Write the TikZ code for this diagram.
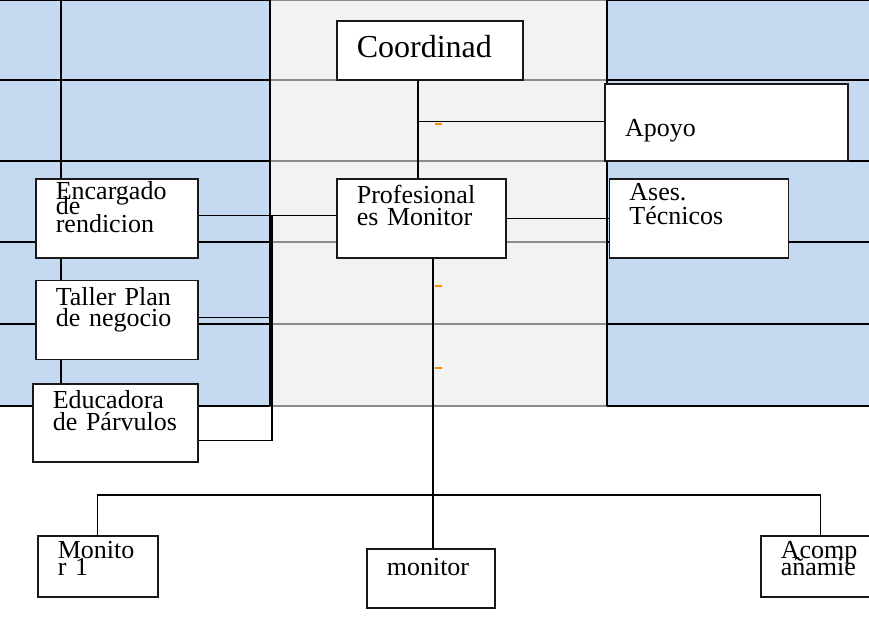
\documentclass[tikz,border=0pt]{standalone}
\usepackage{fontspec}
\setmainfont{Liberation Serif}
\usetikzlibrary{positioning}

\definecolor{cellblue}{RGB}{197,217,241}
\definecolor{cellgrey}{RGB}{242,242,242}
\definecolor{rulegrey}{RGB}{140,140,140}
\definecolor{tickorange}{RGB}{255,140,0}

\tikzset{
    box/.style={rectangle, draw=black!90, line width=1.6pt, fill=white, align=left,
        inner xsep=20pt, inner ysep=0pt, font=\fontsize{26}{22}\selectfont,
        execute at begin node={\lineskiplimit=-40pt}},
    conn/.style={draw=black, line width=1.3pt},
    rule/.style={line width=1.6pt},
    tick/.style={tickorange, line width=1.8pt}
}

\begin{document}
\begin{tikzpicture}[x=1pt, y=-1pt]
    \useasboundingbox (0,0) rectangle (869,630);
    \clip (0,0) rectangle (869,630);

    % Background cells
    \fill[cellblue] (0,0) rectangle (270,406);
    \fill[cellgrey] (270,0) rectangle (607,406);
    \fill[cellblue] (607,0) rectangle (869,406);

    % Table rules
    \foreach \y in {0,80,161,242,324,406} {
        \draw[rule] (0,\y) -- (270,\y);
        \draw[rule, rulegrey] (270,\y) -- (607,\y);
        \draw[rule] (607,\y) -- (869,\y);
    }
    \draw[rule] (61,0) -- (61,406);
    \draw[line width=2.6pt] (270,0) -- (270,406);
    \draw[line width=2.6pt] (607,0) -- (607,406);

    \begin{scope}
        % Top and middle boxes
        \node[box, text width=146pt, text height=37pt, text depth=22pt, font=\fontsize{32}{32}\selectfont, anchor=north west] (coord) at (336,20) {Coordinad};
        \node[box, line width=2.4pt, text width=203pt, text height=52pt, text depth=25pt, anchor=north west] (apoyo) at (604,83) {Apoyo};
        \node[box, text width=129pt, text height=25pt, text depth=54pt, anchor=north west] (prof) at (336,178) {Profesional\\es Monitor};
        \node[box, text width=139pt, text height=22pt, text depth=57pt, right=102pt of prof] (ases) {Ases.\\[2pt]Técnicos};

        % Left column
        \node[box, text width=122pt, text height=21pt, text depth=58pt, anchor=north west] (encargado) at (35,178) {Encargado\\[-7pt]de\\[-4pt]rendicion};
        \node[box, text width=122pt, text height=25pt, text depth=54pt, below=21pt of encargado] (taller) {Taller Plan\\[-1pt]de negocio};
        \node[box, text width=125pt, text height=25pt, text depth=53pt, anchor=north west] (educadora) at (32,383) {Educadora\\de Párvulos};

        % Bottom row
        \node[box, text width=80pt, text height=23pt, text depth=38pt, anchor=north west] (monito) at (37,535) {Monito\\[-5pt]r 1};
        \node[box, text width=88pt, text height=27pt, text depth=32pt, anchor=north west] (mon) at (366,548) {monitor};
        \node[box, text width=80pt, text height=23pt, text depth=38pt, anchor=north west] (acomp) at (760,535) {Acomp\\[-5pt]añamie};
    \end{scope}

    % Connectors
    \coordinate (spine) at (418,0);
    \coordinate (ltrunk) at (272,0);
    \coordinate (btrunk) at (433,0);
    \coordinate (bus) at (0,495);
    \coordinate (encport) at ([yshift=2.5pt]encargado.east);
    \coordinate (tallerport) at ([yshift=2.5pt]taller.east);
    \coordinate (eduport) at ([yshift=-18pt]educadora.east);

    \draw[conn] (coord.south -| spine) -- (prof.north -| spine);
    \draw[conn] ([yshift=1.5pt]apoyo.west -| spine) -- ([yshift=1.5pt]apoyo.west);
    \draw[conn] (encport) -- (encport -| prof.west);
    \draw[conn] (prof.east) -- (ases.west);
    \draw[conn] (encport -| ltrunk) |- (eduport);
    \draw[conn] (tallerport) -- (tallerport -| ltrunk);
    \draw[conn] (prof.south -| btrunk) -- (mon.north -| btrunk);
    \draw[conn] (monito.north) |- (acomp.north |- bus) -- (acomp.north);

    % Orange marks
    \foreach \y in {124,286,368}
        \draw[tick] (435,\y) -- (442,\y);
\end{tikzpicture}
\end{document}
